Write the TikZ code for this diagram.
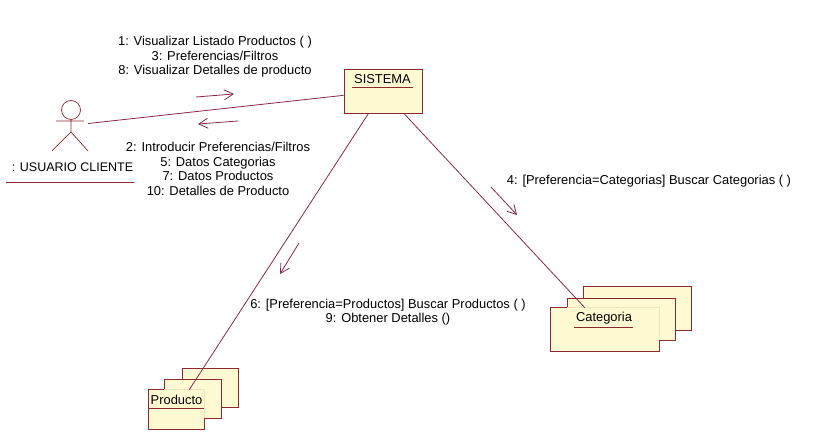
\documentclass[tikz,border=0pt]{standalone}
\usepackage{fontspec}
\setmainfont{Liberation Sans}
\usetikzlibrary{arrows.meta}
\definecolor{linkcol}{rgb}{0.52,0.16,0.30}
\definecolor{boxcol}{rgb}{0.55,0.16,0.18}
\definecolor{fillcol}{rgb}{1.0,0.98,0.82}
\definecolor{faintcol}{rgb}{0.93,0.89,0.74}
\tikzset{
  objbox/.style={draw=boxcol,fill=fillcol,line width=0.9bp,inner sep=0pt},
  frontbox/.style={fill=fillcol,inner sep=0pt},
  msgtext/.style={align=center,inner sep=0pt,font=\fontsize{12.9bp}{14.6bp}\selectfont},
  link/.style={draw=linkcol,line width=0.8bp},
  msg/.style={draw=linkcol,line width=0.8bp,-{Straight Barb[length=9bp,width=10bp]}},
  edgeline/.style={boxcol,line width=0.9bp},
}
\begin{document}
\begin{tikzpicture}[x=1bp,y=1bp]
  \useasboundingbox (0,0) rectangle (833,439);
  % Node: Sistema
  \node [objbox,minimum width=78bp,minimum height=44bp] (sistema) at (383,348) {};
  \node [msgtext] (sistemalabel) at (382.5,360) {SISTEMA};
  \draw [edgeline] (352,352) -- (413,352);
  % Node: Usuario
  \node [minimum width=36bp,minimum height=51bp,inner sep=0pt] (usuario) at (70,313.5) {};
  \draw [boxcol,line width=0.7bp] (71,329) circle (9.5);
  \draw [boxcol,line width=0.7bp] (71,319.5) -- (71,307) (56,318) -- (84,318) (52,288) -- (71,307) -- (88,288);
  \node [msgtext,font=\fontsize{12.5bp}{14.6bp}\selectfont] (usuariolabel) at (72.5,272) {: USUARIO CLIENTE};
  \draw [edgeline] (6,257) -- (134,257);
  % Node: Producto
  \node [objbox,minimum width=56bp,minimum height=39bp] (productoc) at (210,51.5) {};
  \node [objbox,minimum width=57bp,minimum height=39bp] (productob) at (192.5,40.5) {};
  \node [frontbox,minimum width=55bp,minimum height=39bp] (producto) at (176.5,29.5) {};
  \draw [faintcol,line width=0.9bp] (producto.north west) -- (producto.north east) -- (producto.south east);
  \draw [edgeline] (productob.west |- producto.north) -- (producto.north west) -- (producto.south west) -- (producto.south east) -- (producto.east |- productob.south);
  \node [msgtext] (productolabel) at (176.5,39) {Producto};
  \draw [edgeline] (148,31) -- (204,31);
  % Node: Categoria
  \node [objbox,minimum width=108bp,minimum height=44bp] (categoriac) at (637,131) {};
  \node [objbox,minimum width=108bp,minimum height=42bp] (categoriab) at (621,120) {};
  \node [frontbox,minimum width=108bp,minimum height=43bp] (categoria) at (605,109.5) {};
  \draw [faintcol,line width=0.9bp] (categoria.north west) -- (categoria.north east) -- (categoria.south east);
  \draw [edgeline] (categoriab.west |- categoria.north) -- (categoria.north west) -- (categoria.south west) -- (categoria.south east) -- (categoria.east |- categoriab.south);
  \node [msgtext] (categorialabel) at (604,121) {Categoria};
  \draw [edgeline] (574,112) -- (633,112);
  % Edge: Usuario -> Sistema
  \draw [link] (usuario) -- (sistema);
  \coordinate (msga) at (196,342);
  \coordinate (msgb) at (234,345);
  \draw [msg] (msga) -- (msgb);
  \coordinate (msgc) at (238,318);
  \coordinate (msgd) at (198,315);
  \draw [msg] (msgc) -- (msgd);
  \node [msgtext] (msgup) at (215,382) {1: Visualizar Listado Productos ( )\\3: Preferencias/Filtros\\8: Visualizar Detalles de producto};
  \node [msgtext] (msgdown) at (218,270) {2: Introducir Preferencias/Filtros\\5: Datos Categorias\\7: Datos Productos\\10: Detalles de Producto};
  % Edge: Sistema -> Producto
  \draw [link] (sistema) -- (producto);
  \coordinate (msge) at (299,196);
  \coordinate (msgf) at (280,165);
  \draw [msg] (msge) -- (msgf);
  \node [msgtext] (msgprod) at (388,127) {6: [Preferencia=Productos] Buscar Productos ( )\\9: Obtener Detalles ()};
  % Edge: Sistema -> Categoria
  \draw [link] (sistema) -- (categoria);
  \coordinate (msgg) at (491,252);
  \coordinate (msgh) at (517,224);
  \draw [msg] (msgg) -- (msgh);
  \node [msgtext] (msgcat) at (649,258) {4: [Preferencia=Categorias] Buscar Categorias ( )};
\end{tikzpicture}
\end{document}
